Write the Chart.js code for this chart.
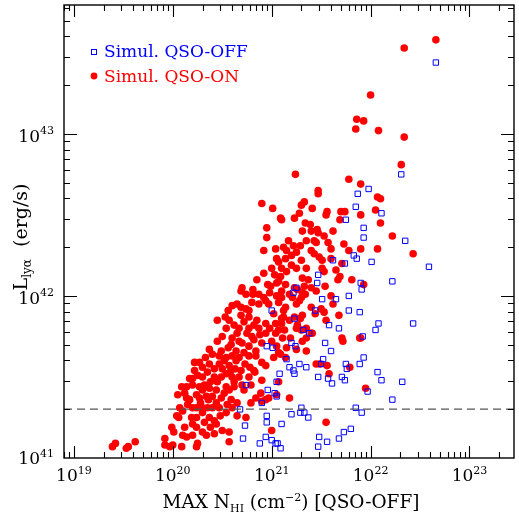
<!DOCTYPE html>
<html><head><meta charset="utf-8">
<script src="https://cdn.jsdelivr.net/npm/chart.js@4/dist/chart.umd.min.js"></script>
<style>html,body{margin:0;padding:0;background:#fff;}canvas{display:block;}</style>
</head><body>
<canvas id="c" width="519" height="516"></canvas>
<script>
// Axis decades (log10) and ranges
const xDecades = [19, 20, 21, 22, 23];
const yDecades = [41, 42, 43];
const xRangeLog = [18.9, 23.45];
const yRangeLog = [41, 43.795];
const thresholdL = 2e41;

// Simulated QSO-OFF: [log10 N_HI, log10 L_lya]
const qsoOff = [
[22.66,43.44],[22.31,42.75],[21.87,42.63],[21.98,42.66],[21.85,42.55],[22.11,42.51],[21.75,42.47],[21.93,42.42],[21.93,42.36],[22.35,42.34],
[21.83,42.25],[21.86,42.23],[21.62,42.22],[21.74,42.20],[22.01,42.21],[22.59,42.18],[21.47,42.13],[21.46,42.08],[21.90,42.08],[21.91,42.04],[22.22,42.09],
[21.25,42.05],[21.22,42.02],[21.51,41.98],[21.65,41.98],[21.78,42.00],[21.44,41.91],[21.78,41.91],[21.89,41.90],[21.23,41.86],[21.58,41.82],[21.68,41.80],[22.08,41.83],[22.05,41.79],[22.43,41.83],
[21.32,41.79],[21.38,41.77],[21.92,41.75],[21.00,41.91],[21.54,41.71],[20.95,41.69],[21.01,41.68],[21.20,41.71],[21.24,41.69],[21.15,41.61],[21.18,41.56],[21.28,41.58],[21.35,41.56],[21.22,41.54],[21.23,41.52],
[21.50,41.58],[21.52,41.61],[21.08,41.52],[21.47,41.50],[21.60,41.66],[21.75,41.58],[21.76,41.55],[21.89,41.58],[21.93,41.62],[22.07,41.53],[22.11,41.48],[22.32,41.47],
[21.57,41.49],[21.61,41.46],[21.71,41.50],[21.74,41.48],[21.97,41.41],[22.22,41.36],[20.74,41.45],[20.96,41.42],[21.03,41.40],[21.05,41.38],[21.05,41.47],[20.90,41.34],[20.68,41.30],
[21.30,41.31],[21.29,41.28],[21.33,41.28],[21.37,41.25],[21.20,41.27],[20.95,41.26],[20.95,41.22],[21.10,41.21],[20.73,41.20],[20.71,41.12],[21.48,41.13],[20.94,41.13],[21.00,41.11],[21.04,41.09],[21.06,41.09],[20.88,41.09],[21.09,41.06],[21.47,41.07],[21.56,41.10],[21.68,41.12],[21.73,41.16],[21.80,41.18],[21.85,41.31],[21.91,41.28]
];

// Simulated QSO-ON: [log10 N_HI, log10 L_lya]
const qsoOn = [
[19.39,41.07],[19.42,41.09],[19.53,41.06],[19.55,41.07],[19.62,41.10],
[19.92,41.12],[19.92,41.08],[19.97,41.07],[20.00,41.08],[20.09,41.07],[20.24,41.07],[20.25,41.09],
[20.10,41.14],[20.14,41.13],[20.20,41.14],[20.30,41.16],[20.34,41.14],[20.42,41.15],[20.57,41.10],
[19.99,41.19],[20.01,41.16],[20.12,41.19],[20.20,41.21],[20.24,41.19],[20.32,41.22],[20.44,41.21],[20.57,41.16],[21.00,41.17],[21.55,41.22],
[20.04,41.26],[20.06,41.25],[20.19,41.25],[20.24,41.25],[20.30,41.28],[20.37,41.25],[20.42,41.23],[20.54,41.28],[20.74,41.25],
[20.07,41.31],[20.10,41.29],[20.20,41.31],[20.24,41.31],[20.30,41.31],[20.35,41.31],[20.40,41.31],[20.47,41.31],[20.60,41.31],
[20.05,41.39],[20.14,41.37],[20.17,41.36],[20.24,41.39],[20.27,41.37],[20.34,41.38],[20.36,41.36],[20.44,41.34],[20.49,41.37],[20.59,41.36],[20.55,41.33],[20.65,41.34],[20.79,41.34],[20.90,41.35],
[20.09,41.44],[20.14,41.44],[20.20,41.45],[20.27,41.44],[20.32,41.45],[20.37,41.43],[20.44,41.42],[20.54,41.44],[20.57,41.42],[20.62,41.44],[20.72,41.42],[20.79,41.45],[20.84,41.37],[20.94,41.36],[20.97,41.37],[21.05,41.39],[21.18,41.37],[20.89,41.40],[21.07,41.47],[21.95,41.43],
[20.17,41.49],[20.22,41.54],[20.25,41.51],[20.30,41.50],[20.35,41.53],[20.42,41.50],[20.49,41.50],[20.54,41.52],[20.60,41.50],[20.67,41.50],[20.77,41.50],[20.83,41.53],[20.90,41.48],
[20.22,41.59],[20.27,41.59],[20.30,41.56],[20.37,41.58],[20.47,41.58],[20.50,41.55],[20.57,41.57],[20.63,41.55],[20.69,41.54],[20.78,41.56],[20.82,41.54],[20.94,41.57],
[20.33,41.62],[20.47,41.63],[20.54,41.62],[20.60,41.63],[20.64,41.60],[20.72,41.65],[20.77,41.63],[20.84,41.63],[20.90,41.59],[21.02,41.62],[21.09,41.64],[21.14,41.62],[21.45,41.58],[21.56,41.57],[21.49,41.58],[21.58,41.52],[21.79,41.56],
[20.37,41.67],[20.49,41.66],[20.56,41.68],[20.64,41.66],[20.70,41.71],[20.77,41.69],[20.84,41.66],[20.90,41.71],[21.05,41.69],[21.07,41.65],[21.15,41.68],[21.25,41.67],[21.35,41.66],
[20.50,41.75],[20.60,41.74],[20.65,41.77],[20.75,41.77],[20.82,41.73],[20.94,41.77],[21.00,41.72],[21.11,41.74],[21.19,41.74],[21.31,41.72],[21.41,41.77],[21.35,41.74],[21.71,41.74],[21.90,41.74],[21.72,41.72],[21.89,41.74],
[20.54,41.80],[20.67,41.80],[20.77,41.80],[20.87,41.80],[21.04,41.77],[21.13,41.79],[21.25,41.80],[21.30,41.79],[21.07,41.79],[21.40,41.77],[21.35,41.80],[21.26,41.82],[21.10,41.83],
[20.45,41.85],[20.53,41.87],[20.57,41.85],[20.69,41.88],[20.77,41.87],[20.85,41.85],[20.94,41.83],[21.02,41.89],[21.04,41.83],[21.10,41.86],[21.18,41.85],[21.44,41.89],[21.12,41.87],[21.23,41.87],[21.29,41.86],[21.31,41.88],[21.68,41.88],
[20.56,41.91],[20.69,41.93],[20.74,41.92],[20.77,41.91],[20.87,41.95],[21.12,41.91],[21.25,41.95],[21.28,41.97],[21.53,41.90],[21.40,41.93],[21.50,41.92],[21.07,41.96],[21.14,41.93],[20.60,41.94],[20.94,41.97],[20.97,41.95],
[20.81,42.01],[20.74,42.01],[20.87,42.01],[20.92,41.99],[21.05,42.00],[21.31,42.02],[21.30,41.99],[21.21,41.99],[21.10,41.99],[21.18,42.01],[21.34,42.01],[21.26,42.04],[21.10,42.03],
[20.70,42.05],[20.69,42.03],[20.81,42.04],[20.96,42.07],[20.99,42.06],[21.05,42.08],[21.23,42.05],[21.07,42.09],[21.14,42.07],[21.33,42.06],[21.54,42.06],[21.93,42.07],
[21.00,42.17],[21.03,42.13],[21.09,42.12],[21.10,42.17],[21.25,42.17],[21.35,42.17],[21.51,42.17],[21.53,42.15],[21.69,42.12],[21.67,42.10],[21.81,42.10],[21.31,42.11],[21.37,42.10],
[20.92,42.28],[21.04,42.29],[21.05,42.23],[21.07,42.21],[21.12,42.30],[21.15,42.28],[21.40,42.28],[21.43,42.26],[21.20,42.25],[21.48,42.24],[21.14,42.23],[21.51,42.22],[21.60,42.23],[21.71,42.20],[21.78,42.28],[21.90,42.29],[22.07,42.29],[22.43,42.26],
[20.95,42.42],[20.95,42.36],[21.17,42.34],[21.22,42.31],[21.29,42.31],[21.43,42.34],[21.45,42.33],[21.57,42.33],[21.73,42.32],[21.53,42.37],[22.22,42.37],
[21.23,42.48],[21.09,42.48],[21.10,42.47],[21.34,42.45],[21.39,42.44],[21.31,42.40],[21.40,42.40],[21.46,42.41],[21.47,42.39],[21.69,42.47],[21.90,42.50],[22.05,42.53],[22.10,42.45],
[20.90,42.57],[21.01,42.54],[21.33,42.58],[21.30,42.56],[21.28,42.51],[21.41,42.54],[21.56,42.52],[21.55,42.50],[21.70,42.52],[21.74,42.52],
[21.47,42.65],[21.47,42.63],[21.24,42.75],[21.78,42.72],[21.90,42.69],[22.07,42.61],[22.10,42.60],[22.31,42.81],
[22.34,42.98],[21.86,43.09],[21.93,43.08],[21.85,43.03],[22.08,43.02],[22.00,43.24],[22.34,43.53],[22.66,43.58],
[20.15,41.33],[20.28,41.34],[20.40,41.38],[20.52,41.40],[20.45,41.47],[20.62,41.47],[20.70,41.45],[20.38,41.47],[20.12,41.40],[20.20,41.49],
[20.58,41.53],[20.73,41.58],[20.42,41.55],[20.52,41.60],[20.67,41.62],[20.40,41.64],[20.59,41.70],[20.45,41.72],[20.67,41.72],[20.80,41.75],
[20.88,41.76],[20.62,41.82],[20.72,41.84],[20.82,41.82],[20.98,41.80],[20.65,41.95],[20.80,41.96],[20.98,42.02],[20.85,42.10],[20.92,42.14],
[21.15,42.15],[21.20,42.19],[21.30,42.22],[21.25,42.27],[21.35,42.34],[21.62,42.40],[21.60,42.29],[21.65,42.16],[21.45,42.03],[21.40,42.05],
[21.60,42.00],[21.55,41.85],[21.62,41.95],[20.30,41.42],[20.48,41.26],[20.65,41.26],[20.50,41.17],[20.38,41.19]
];

const legendLabels = ['Simul. QSO-OFF', 'Simul. QSO-ON'];
const seriesColors = ['#0000ff', '#ff0000'];

const toPts = arr => arr.map(p => ({x: Math.pow(10, p[0]), y: Math.pow(10, p[1])}));
const xMin = Math.pow(10, xRangeLog[0]), xMax = Math.pow(10, xRangeLog[1]);
const yMin = Math.pow(10, yRangeLog[0]), yMax = Math.pow(10, yRangeLog[1]);

const FONT = "'DejaVu Serif', 'Liberation Serif', serif";

function drawRich(ctx, parts, x, y, align) {
  let total = 0;
  parts.forEach(p => { ctx.font = p[1] + 'px ' + FONT; p.w = ctx.measureText(p[0]).width; total += p.w; });
  let cx = align === 'center' ? x - total / 2 : (align === 'right' ? x - total : x);
  ctx.textAlign = 'left';
  ctx.textBaseline = 'alphabetic';
  parts.forEach(p => { ctx.font = p[1] + 'px ' + FONT; ctx.fillText(p[0], cx, y + p[2]); cx += p.w; });
}

const framePlugin = {
  id: 'frame',
  afterDraw(chart) {
    const ctx = chart.ctx, a = chart.chartArea;
    const xs = chart.scales.x, ys = chart.scales.y;
    ctx.save();
    ctx.strokeStyle = '#000';
    ctx.lineWidth = 1.4;
    ctx.strokeRect(a.left, a.top, a.right - a.left, a.bottom - a.top);
    ctx.lineWidth = 1.1;
    ctx.beginPath();
    for (let d = Math.floor(xRangeLog[0]); d <= Math.ceil(xRangeLog[1]); d++) {
      for (let m = 1; m <= 9; m++) {
        const v = m * Math.pow(10, d);
        if (v <= xMin || v >= xMax) continue;
        const px = Math.round(xs.getPixelForValue(v)) + 0.5;
        const len = m === 1 ? 12 : 6;
        ctx.moveTo(px, a.bottom); ctx.lineTo(px, a.bottom - len);
        ctx.moveTo(px, a.top); ctx.lineTo(px, a.top + len);
      }
    }
    for (let d = Math.floor(yRangeLog[0]); d <= Math.ceil(yRangeLog[1]); d++) {
      for (let m = 1; m <= 9; m++) {
        const v = m * Math.pow(10, d);
        if (v <= yMin || v >= yMax) continue;
        const py = Math.round(ys.getPixelForValue(v)) + 0.5;
        const len = m === 1 ? 13 : 6;
        ctx.moveTo(a.left, py); ctx.lineTo(a.left + len, py);
        ctx.moveTo(a.right, py); ctx.lineTo(a.right - len, py);
      }
    }
    ctx.stroke();

    ctx.fillStyle = '#000';
    xDecades.forEach(d => {
      const px = xs.getPixelForValue(Math.pow(10, d));
      drawRich(ctx, [['10', 17, 0], [String(d), 11, -7.5]], px, 481, 'center');
    });
    yDecades.forEach(d => {
      const py = ys.getPixelForValue(Math.pow(10, d));
      const yy = d === yDecades[0] ? py + 6 : py + 8;
      drawRich(ctx, [['10', 17, 0], [String(d), 11, -7.5]], 54, yy, 'right');
    });

    drawRich(ctx, [['MAX N', 18.5, 0], ['HI', 11, 4], [' (cm', 18.5, 0], ['\u22122', 11, -7], [') [QSO-OFF]', 18.5, 0]], 291, 508, 'center');
    ctx.save();
    ctx.translate(27, 237);
    ctx.rotate(-Math.PI / 2);
    drawRich(ctx, [['L', 19, 0], ['ly\u03b1', 12, 4], ['  (erg/s)', 19, 0]], 0, 0, 'center');
    ctx.restore();

    ctx.strokeStyle = seriesColors[0];
    ctx.lineWidth = 1;
    ctx.strokeRect(91.5, 49.5, 5, 5);
    ctx.fillStyle = seriesColors[0];
    drawRich(ctx, [[legendLabels[0], 17, 0]], 104, 57, 'left');
    ctx.fillStyle = seriesColors[1];
    ctx.beginPath(); ctx.arc(94, 76, 3.4, 0, Math.PI * 2); ctx.fill();
    drawRich(ctx, [[legendLabels[1], 17, 0]], 104, 82, 'left');
    ctx.restore();
  }
};

new Chart(document.getElementById('c'), {
  type: 'scatter',
  data: {
    datasets: [
      {
        label: 'threshold',
        data: [{x: xMin, y: thresholdL}, {x: xMax, y: thresholdL}],
        showLine: true, borderColor: '#555555', borderWidth: 1.3, borderDash: [8, 5],
        pointRadius: 0, fill: false, order: 0
      },
      {
        label: legendLabels[0], data: toPts(qsoOff),
        pointStyle: 'rect', pointRadius: 3.8, borderWidth: 1,
        borderColor: seriesColors[0], backgroundColor: 'rgba(0,0,0,0)', order: 1
      },
      {
        label: legendLabels[1], data: toPts(qsoOn),
        pointStyle: 'circle', pointRadius: 3.8, borderWidth: 0,
        borderColor: seriesColors[1], backgroundColor: seriesColors[1], order: 2
      }
    ]
  },
  options: {
    responsive: false, animation: false, devicePixelRatio: 1,
    layout: {padding: {left: 64, right: 4, top: 3, bottom: 58}},
    plugins: {legend: {display: false}, tooltip: {enabled: false}},
    scales: {
      x: {type: 'logarithmic', min: xMin, max: xMax, display: false},
      y: {type: 'logarithmic', min: yMin, max: yMax, display: false}
    }
  },
  plugins: [framePlugin]
});
</script>
</body></html>
